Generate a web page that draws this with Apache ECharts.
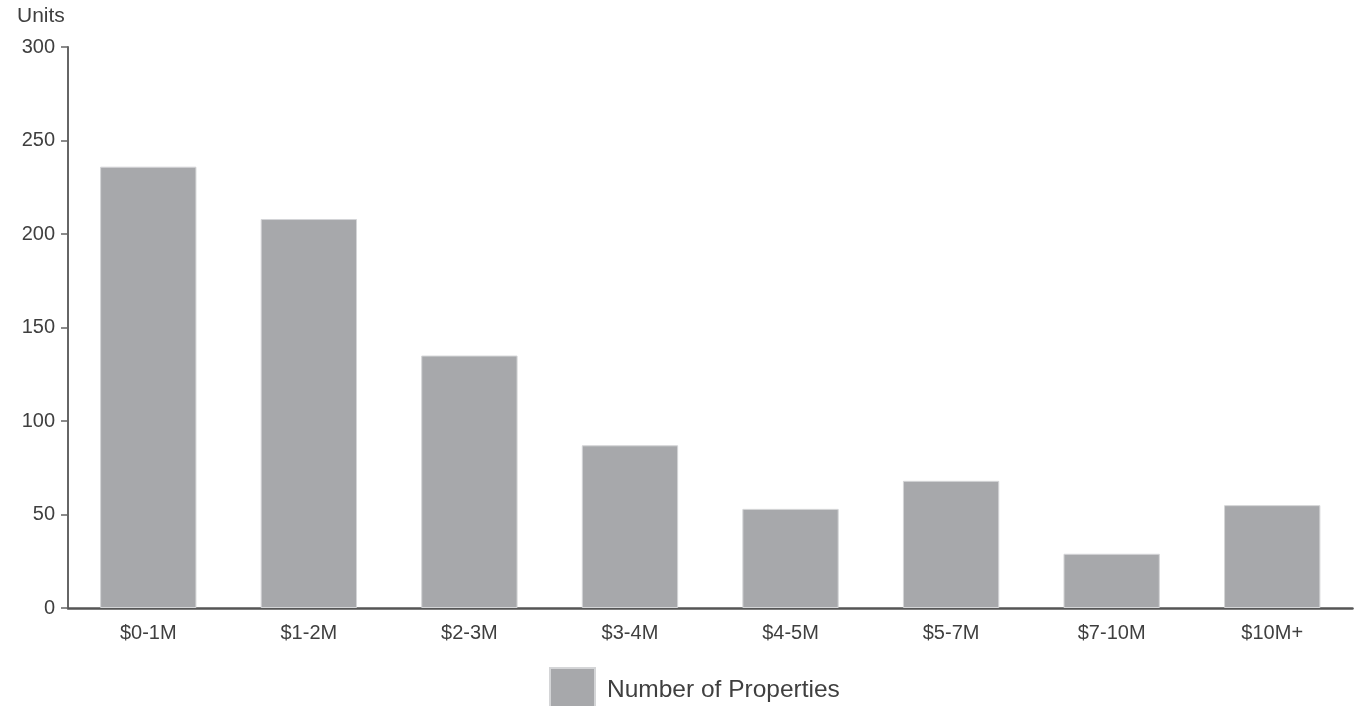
<!DOCTYPE html>
<html><head><meta charset="utf-8">
<script src="https://cdn.jsdelivr.net/npm/echarts@6/dist/echarts.min.js"></script>
<style>html,body{margin:0;padding:0;background:#fff;}#c{width:1359px;height:706px;}</style>
</head><body><div id="c"></div>
<script>
const categories = ["$0-1M","$1-2M","$2-3M","$3-4M","$4-5M","$5-7M","$7-10M","$10M+"];
const properties = [236, 208, 135, 87, 53, 68, 29, 55];
const yTicks = {min: 0, max: 300, interval: 50};

const FONT = 'Liberation Sans, Arial, sans-serif';
const chart = echarts.init(document.getElementById('c'));
chart.setOption({
  animation: false,
  textStyle: {fontFamily: FONT},
  grid: {left: 68, right: 6.5, top: 47, bottom: 98},
  legend: {
    top: 662, left: 544,
    itemWidth: 45, itemHeight: 44, itemGap: 10,
    icon: 'rect',
    textStyle: {fontSize: 24.5, color: '#3f3f3f', fontFamily: FONT, padding: [0, 0, 0, 7]},
    data: ['Number of Properties']
  },
  xAxis: {
    type: 'category', data: categories,
    axisLine: {lineStyle: {color: '#555', width: 2.5}},
    axisTick: {alignWithLabel: true, length: 7, lineStyle: {color: '#555', width: 2}},
    axisLabel: {color: '#3f3f3f', fontSize: 20, margin: 15}
  },
  yAxis: {
    type: 'value', min: yTicks.min, max: yTicks.max, interval: yTicks.interval,
    name: 'Units', nameLocation: 'end', nameGap: 20,
    nameTextStyle: {color: '#3f3f3f', fontSize: 21, align: 'left', padding: [0, 0, 0, -51]},
    axisLine: {show: true, lineStyle: {color: '#666', width: 2}},
    axisTick: {show: true, length: 7, lineStyle: {color: '#666', width: 1.5}},
    splitLine: {show: false},
    axisLabel: {color: '#3f3f3f', fontSize: 20, margin: 13}
  },
  series: [{
    name: 'Number of Properties', type: 'bar', data: properties,
    barWidth: '60%',
    itemStyle: {color: '#a7a8ab', borderColor: '#d4d5d7', borderWidth: 1}
  }]
});
</script></body></html>
